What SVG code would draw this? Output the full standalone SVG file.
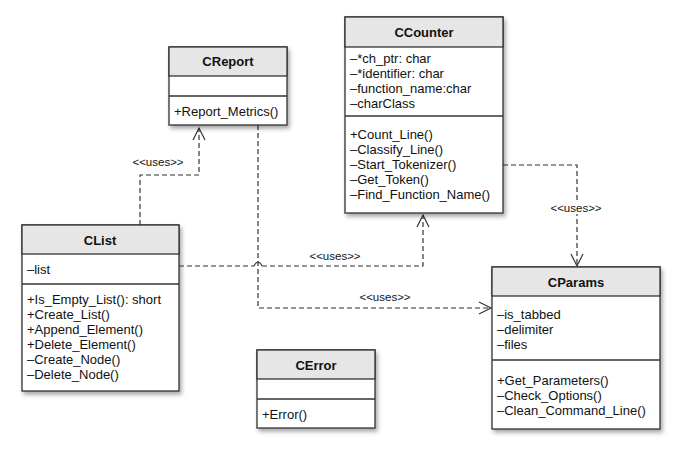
<svg xmlns="http://www.w3.org/2000/svg" width="680" height="454" viewBox="0 0 680 454">
<style>
.box{fill:#fff;stroke:#333;stroke-width:1.3}
.hd{fill:#e6e6e6;stroke:#333;stroke-width:1.3}
.sep{stroke:#333;stroke-width:1.3}
text{font-family:"Liberation Sans",Arial,sans-serif;font-size:13px;fill:#111}
.t{font-weight:bold;font-size:13px;text-anchor:middle}
.lbl{font-size:11.5px;text-anchor:middle}
.c{fill:none;stroke:#333;stroke-width:1.2;stroke-dasharray:5,3}
.ah{fill:none;stroke:#333;stroke-width:1.2}
</style>
<defs>
<filter id="sh" x="-10%" y="-10%" width="130%" height="130%"><feDropShadow dx="2" dy="3" stdDeviation="2" flood-color="#000" flood-opacity="0.35"/></filter>
</defs>
<rect width="680" height="454" fill="#fff"/>
<g id="connectors">
<path class="c" d="M140,225 V175 H199 V128"/>
<path class="ah" d="M193,140 L199,128 L205,140"/>
<text class="lbl" x="158" y="166">&lt;&lt;uses&gt;&gt;</text>
<path class="c" d="M179,266 H254 M262,266 H423 V215"/>
<path class="ah" d="M254,266 Q258,258 262,266"/>
<path class="ah" d="M417,227 L423,215 L429,227"/>
<text class="lbl" x="335" y="260">&lt;&lt;uses&gt;&gt;</text>
<path class="c" d="M258,125 V308 H491"/>
<path class="ah" d="M479,302 L491,308 L479,314"/>
<text class="lbl" x="385" y="301">&lt;&lt;uses&gt;&gt;</text>
<path class="c" d="M503,165 H577 V266"/>
<path class="ah" d="M571,254 L577,266 L583,254"/>
<rect x="546" y="201" width="62" height="13" fill="#fff"/>
<text class="lbl" x="576" y="212">&lt;&lt;uses&gt;&gt;</text>
</g>
<g id="CReport">
<rect class="box" x="169" y="47" width="118" height="78" filter="url(#sh)"/>
<rect class="hd" x="169" y="47" width="118" height="29"/>
<line class="sep" x1="169" y1="96" x2="287" y2="96"/>
<text class="t" x="228" y="66">CReport</text>
<text x="174" y="116">+Report_Metrics()</text>
</g>
<g id="CList">
<rect class="box" x="22" y="225" width="157" height="166" filter="url(#sh)"/>
<rect class="hd" x="22" y="225" width="157" height="29"/>
<line class="sep" x1="22" y1="284" x2="179" y2="284"/>
<text class="t" x="100" y="245">CList</text>
<text x="27" y="274">–list</text>
<text x="27" y="304">+Is_Empty_List(): short</text>
<text x="27" y="319">+Create_List()</text>
<text x="27" y="334">+Append_Element()</text>
<text x="27" y="349">+Delete_Element()</text>
<text x="27" y="364">–Create_Node()</text>
<text x="27" y="379">–Delete_Node()</text>
</g>
<g id="CError">
<rect class="box" x="257" y="350" width="118" height="78" filter="url(#sh)"/>
<rect class="hd" x="257" y="350" width="118" height="29"/>
<line class="sep" x1="257" y1="399" x2="375" y2="399"/>
<text class="t" x="316" y="370">CError</text>
<text x="262" y="419">+Error()</text>
</g>
<g id="CCounter">
<rect class="box" x="345" y="17" width="158" height="196" filter="url(#sh)"/>
<rect class="hd" x="345" y="17" width="158" height="30"/>
<line class="sep" x1="345" y1="116" x2="503" y2="116"/>
<text class="t" x="424" y="37">CCounter</text>
<text x="350" y="63">–*ch_ptr: char</text>
<text x="350" y="78">–*identifier: char</text>
<text x="350" y="93">–function_name:char</text>
<text x="350" y="108">–charClass</text>
<text x="350" y="139">+Count_Line()</text>
<text x="350" y="154">–Classify_Line()</text>
<text x="350" y="169">–Start_Tokenizer()</text>
<text x="350" y="184">–Get_Token()</text>
<text x="350" y="199">–Find_Function_Name()</text>
</g>
<g id="CParams">
<rect class="box" x="492" y="267" width="168" height="162" filter="url(#sh)"/>
<rect class="hd" x="492" y="267" width="168" height="29"/>
<line class="sep" x1="492" y1="360" x2="660" y2="360"/>
<text class="t" x="576" y="287">CParams</text>
<text x="497" y="319">–is_tabbed</text>
<text x="497" y="334">–delimiter</text>
<text x="497" y="349">–files</text>
<text x="497" y="385">+Get_Parameters()</text>
<text x="497" y="400">–Check_Options()</text>
<text x="497" y="415">–Clean_Command_Line()</text>
</g>
</svg>
